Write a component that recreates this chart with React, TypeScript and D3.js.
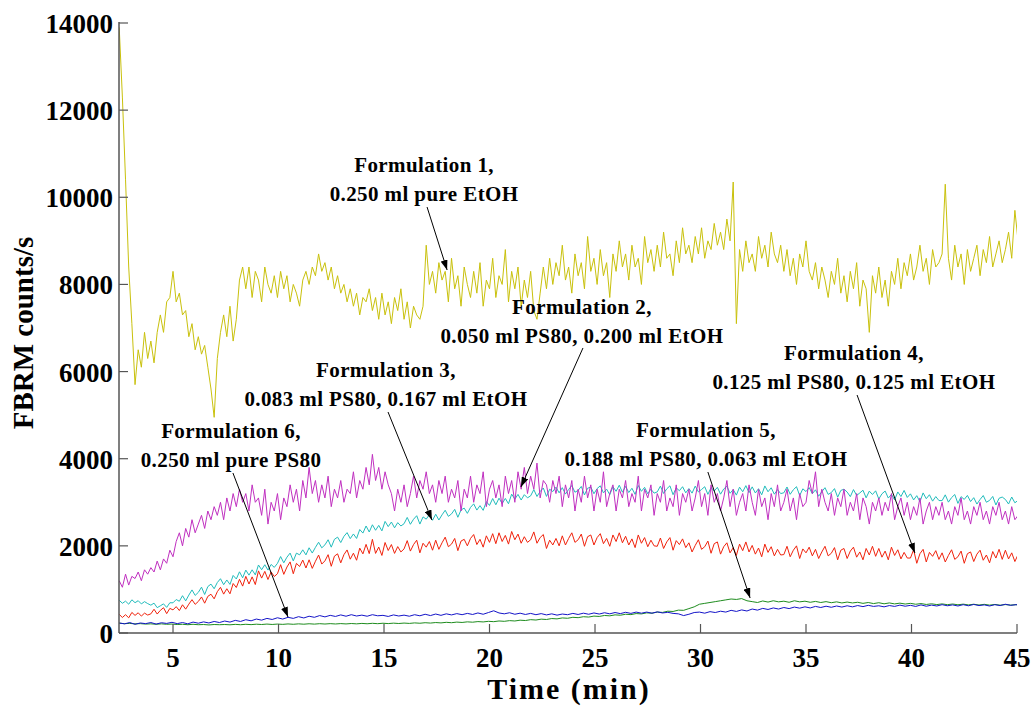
import React from 'react';
import * as d3 from 'd3';

// ---- Chart data (FBRM counts/s versus time, sampled at a fixed interval from T_START) ----
const T_START = 2.45;

const X_TICKS = [5, 10, 15, 20, 25, 30, 35, 40, 45];
const Y_TICKS = [0, 2000, 4000, 6000, 8000, 10000, 12000, 14000];

// Formulation 1: 0.250 ml pure EtOH
const F1_STEP = 0.15;
const F1_COUNTS = [
  13900, 12300, 10400, 8400, 7100, 5700, 6500, 6100, 6900, 6300,
  6700, 6200, 6900, 7300, 6900, 7600, 7700, 8300, 7600, 7800,
  7300, 7400, 6800, 7100, 6500, 6800, 6400, 6600, 6100, 5600,
  4950, 6300, 6900, 7300, 6800, 7500, 6700, 7200, 8100, 8400,
  7900, 8400, 7700, 8300, 8100, 7600, 8400, 8000, 7800, 8200,
  7700, 8300, 7900, 8200, 7600, 8000, 7800, 7500, 8100, 8300,
  8000, 8400, 8200, 8700, 8300, 8500, 8100, 8400, 7900, 8200,
  7800, 8000, 7600, 7900, 7500, 7800, 7300, 7700, 7600, 7900,
  7400, 7700, 7200, 7800, 7300, 7600, 7100, 7700, 7400, 7900,
  7200, 7600, 7000, 7500, 7300, 7200, 7500, 8900, 8000, 8300,
  7800, 8500, 8100, 8300, 7600, 8600, 7900, 8200, 7500, 8400,
  8000, 7700, 8300, 7800, 8500, 7500, 8100, 7900, 8600, 7700,
  8200, 8000, 8800, 7600, 8300, 7900, 8400, 7500, 8100, 7700,
  8300, 7400, 7200, 7800, 8400, 7900, 8600, 8000, 8500, 8200,
  8900, 8100, 8400, 7800, 8700, 8200, 8500, 7900, 9100, 8300,
  8600, 8000, 8800, 8200, 8500, 7700, 8700, 8300, 9000, 8400,
  8700, 8100, 8900, 8400, 8600, 8000, 9100, 8500, 8800, 8300,
  8900, 8400, 9200, 8600, 8700, 8200, 9000, 8500, 9300, 8700,
  8900, 8500, 9100, 8700, 9300, 8600, 9000, 8800, 9400, 8900,
  9200, 8800, 9500, 9000, 10350, 7100, 8800, 8300, 9000, 8500,
  8700, 8300, 9100, 8600, 8900, 8400, 9200, 8700, 8500, 8900,
  8300, 8800, 8200, 8600, 8000, 8700, 8400, 9000, 8300, 8100,
  8500, 7900, 8400, 8100, 7700, 8300, 8000, 8600, 7800, 8200,
  7600, 8300, 7900, 8500, 7500, 8100, 7900, 6900, 8200, 7800,
  8400, 7700, 8100, 7500, 8300, 8000, 8600, 7900, 8500, 8200,
  8700, 8100, 8400, 8900, 8300, 8600, 8000, 8800, 8400, 8500,
  8700, 10300, 8600, 8100, 8900, 8400, 8700, 8000, 8800, 8300,
  8600, 8900, 8200, 8800, 8500, 9100, 8400, 8700, 9000, 8500,
  8800, 9200, 8600, 9700, 9000,
];

// Formulation 2: 0.050 ml PS80, 0.200 ml EtOH
const F2_STEP = 0.15;
const F2_COUNTS = [
  1200, 1050, 1350, 1100, 1300, 1250, 1400, 1200, 1450, 1350,
  1500, 1400, 1650, 1450, 1700, 1600, 1900, 1750, 2100, 2300,
  2000, 2400, 2200, 2600, 2300, 2500, 2700, 2400, 2800, 2600,
  2900, 2700, 3000, 2600, 3100, 2800, 3200, 2900, 3300, 3000,
  3200, 2800, 3400, 3000, 3100, 2700, 3300, 2500, 3000, 2800,
  3200, 2600, 3100, 2900, 3400, 3000, 3300, 2800, 3500, 3100,
  3800, 3200, 3500, 3000, 3400, 3100, 3600, 2900, 3300, 3100,
  3500, 3000, 3300, 3200, 3700, 3100, 3500, 3300, 3800, 3400,
  4100, 3500, 3800, 3300, 3700, 3400, 3200, 2800, 3300, 3000,
  3400, 2900, 3200, 3600, 3100, 3500, 3300, 3700, 3200, 3400,
  3000, 3500, 3200, 3600, 3000, 3300, 3100, 3500, 2800, 3300,
  3100, 3600, 3000, 3400, 3200, 3700, 2900, 3300, 3500, 3100,
  3400, 2900, 3600, 3200, 3500, 3000, 3700, 3300, 3800, 3200,
  3600, 3300, 3900, 3100, 3500, 3400, 3000, 3500, 3200, 3600,
  2900, 3400, 3100, 3500, 2800, 3300, 3000, 3600, 3100, 3400,
  2800, 3300, 3000, 3700, 2900, 3200, 3400, 2800, 3300, 3100,
  3500, 2900, 3200, 3000, 3600, 2800, 3300, 3100, 3400, 2700,
  3200, 3000, 3500, 2800, 3100, 2900, 3400, 2700, 3200, 3000,
  3300, 2800, 3100, 3500, 2900, 3200, 2700, 3400, 3000, 3200,
  2800, 3100, 3500, 2900, 3300, 2700, 3000, 3200, 2800, 3400,
  3000, 2700, 3300, 2900, 3100, 2600, 3200, 2900, 3400, 2800,
  3000, 3300, 2800, 3100, 2600, 3200, 2900, 3000, 3500, 3200,
  3700, 2900, 3300, 3000, 2800, 3200, 2700, 3100, 2900, 3300,
  2700, 3000, 2800, 3200, 2600, 3100, 2900, 2500, 3000, 2800,
  3100, 2700, 3000, 2800, 3200, 2600, 2900, 3100, 2700, 3000,
  2600, 2900, 2700, 3100, 2500, 2800, 3000, 2600, 2900, 2700,
  3000, 2600, 2800, 2500, 2900, 2700, 3100, 2600, 2800, 2500,
  2900, 2700, 3000, 2600, 2800, 2500, 2900, 2700, 3000, 2600,
  2800, 2500, 2900, 2600, 2700,
];

// Formulation 3: 0.083 ml PS80, 0.167 ml EtOH
const F3_STEP = 0.15;
const F3_COUNTS = [
  752, 682, 731, 661, 762, 696, 741, 668, 720, 675,
  639, 685, 582, 624, 669, 588, 694, 693, 768, 729,
  856, 737, 870, 989, 863, 933, 1052, 884, 1066, 1122,
  1016, 1159, 1246, 1109, 1217, 1115, 1321, 1240, 1404, 1267,
  1444, 1328, 1450, 1334, 1561, 1452, 1567, 1444, 1573, 1506,
  1598, 1755, 1611, 1740, 1834, 1655, 1833, 1794, 1909, 1793,
  1956, 1835, 1966, 2083, 1955, 2023, 2140, 1970, 2150, 2200,
  2076, 2218, 2304, 2166, 2273, 2170, 2375, 2293, 2456, 2318,
  2484, 2358, 2470, 2344, 2561, 2442, 2547, 2414, 2533, 2456,
  2508, 2652, 2495, 2611, 2692, 2500, 2665, 2613, 2715, 2586,
  2726, 2593, 2712, 2817, 2677, 2733, 2838, 2656, 2824, 2866,
  2746, 2883, 2964, 2821, 2923, 2815, 3015, 2928, 3086, 2943,
  3094, 2972, 3088, 2966, 3187, 3072, 3181, 3052, 3175, 3102,
  3148, 3291, 3133, 3248, 3328, 3135, 3299, 3246, 3347, 3217,
  3336, 3189, 3294, 3385, 3231, 3273, 3364, 3168, 3322, 3350,
  3196, 3315, 3378, 3217, 3301, 3175, 3357, 3252, 3392, 3231,
  3364, 3224, 3322, 3182, 3385, 3252, 3343, 3196, 3301, 3210,
  3238, 3371, 3203, 3308, 3378, 3175, 3329, 3266, 3357, 3217,
  3315, 3210, 3371, 3238, 3294, 3357, 3182, 3336, 3259, 3343,
  3186, 3305, 3368, 3207, 3291, 3165, 3347, 3242, 3382, 3221,
  3354, 3214, 3312, 3172, 3375, 3242, 3333, 3186, 3291, 3200,
  3218, 3351, 3183, 3288, 3358, 3155, 3309, 3246, 3337, 3197,
  3286, 3139, 3244, 3335, 3181, 3223, 3314, 3118, 3272, 3300,
  3235, 3130, 3291, 3158, 3214, 3277, 3102, 3256, 3179, 3263,
  3076, 3195, 3258, 3097, 3181, 3055, 3237, 3132, 3272, 3111,
  3194, 3054, 3152, 3012, 3215, 3082, 3173, 3026, 3131, 3040,
  3038, 3171, 3003, 3108, 3178, 2975, 3129, 3066, 3157, 3017,
  3106, 2959, 3064, 3155, 3001, 3043, 3134, 2938, 3092, 3120,
  3065, 2960, 3121, 2988, 3044,
];

// Formulation 4: 0.125 ml PS80, 0.125 ml EtOH
const F4_STEP = 0.15;
const F4_COUNTS = [
  428, 356, 420, 348, 472, 404, 464, 388, 456, 412,
  440, 545, 435, 520, 580, 445, 565, 530, 605, 515,
  648, 547, 662, 765, 658, 724, 827, 684, 841, 890,
  784, 948, 1048, 892, 1016, 900, 1136, 1044, 1232, 1076,
  1300, 1124, 1288, 1112, 1426, 1260, 1414, 1228, 1402, 1296,
  1360, 1568, 1346, 1514, 1632, 1360, 1598, 1526, 1674, 1492,
  1680, 1483, 1646, 1789, 1582, 1655, 1798, 1531, 1764, 1817,
  1610, 1798, 1906, 1694, 1832, 1670, 1948, 1816, 2034, 1822,
  2150, 1827, 1973, 1780, 2077, 1893, 2030, 1827, 1983, 1860,
  1930, 2120, 1880, 2030, 2130, 1840, 2060, 1970, 2100, 1900,
  2130, 1920, 2070, 2200, 1980, 2040, 2170, 1890, 2110, 2150,
  2000, 2170, 2260, 2030, 2150, 1970, 2230, 2080, 2280, 2050,
  2300, 2100, 2240, 2040, 2330, 2140, 2270, 2060, 2210, 2080,
  2140, 2320, 2060, 2190, 2260, 1940, 2130, 2020, 2170, 2000,
  2230, 2020, 2170, 2300, 2080, 2140, 2270, 1990, 2210, 2250,
  2020, 2190, 2280, 2050, 2170, 1990, 2250, 2100, 2300, 2070,
  2220, 2020, 2160, 1960, 2250, 2060, 2190, 1980, 2130, 2000,
  1990, 2180, 1940, 2090, 2190, 1900, 2120, 2030, 2160, 1960,
  2070, 1860, 2010, 2140, 1920, 1980, 2110, 1830, 2050, 2090,
  1810, 1980, 2070, 1840, 1960, 1780, 2040, 1890, 2090, 1860,
  2010, 1810, 1950, 1750, 2040, 1850, 1980, 1770, 1920, 1790,
  1800, 1990, 1750, 1900, 2000, 1710, 1930, 1840, 1970, 1770,
  1920, 1710, 1860, 1990, 1770, 1830, 1960, 1680, 1900, 1940,
  1710, 1880, 1970, 1740, 1860, 1680, 1940, 1790, 1990, 1760,
  1940, 1740, 1880, 1680, 1970, 1780, 1910, 1700, 1850, 1720,
  1720, 1910, 1600, 1820, 1920, 1630, 1850, 1760, 1890, 1690,
  1840, 1630, 1780, 1910, 1690, 1750, 1880, 1600, 1820, 1860,
  1640, 1810, 1900, 1670, 1790, 1610, 1870, 1720, 1920, 1690,
  1900, 1700, 1840, 1640, 1800,
];

// Formulation 5: 0.188 ml PS80, 0.063 ml EtOH
const F5_STEP = 0.25;
const F5_COUNTS = [
  225, 215, 220, 210, 215, 205, 210, 200, 210, 200,
  205, 195, 200, 190, 200, 190, 195, 185, 195, 190,
  195, 188, 198, 190, 200, 192, 202, 195, 205, 196,
  205, 198, 208, 200, 210, 202, 212, 204, 214, 206,
  215, 207, 216, 208, 218, 210, 220, 212, 222, 214,
  224, 216, 226, 218, 228, 220, 232, 224, 236, 228,
  240, 232, 245, 236, 250, 242, 256, 248, 262, 254,
  268, 260, 276, 268, 284, 276, 294, 286, 306, 298,
  318, 310, 332, 324, 346, 338, 360, 352, 374, 366,
  388, 380, 402, 394, 416, 408, 430, 422, 446, 438,
  462, 454, 480, 472, 500, 494, 525, 520, 560, 600,
  660, 680, 700, 720, 740, 760, 780, 770, 790, 740,
  720, 700, 735, 710, 740, 715, 730, 705, 740, 715,
  730, 705, 725, 700, 720, 695, 715, 690, 710, 690,
  705, 680, 700, 675, 695, 670, 690, 668, 685, 665,
  680, 660, 675, 655, 670, 652, 668, 650, 665, 648,
  662, 645, 660, 642, 658, 640, 655, 638, 652, 640,
  650, 640,
];

// Formulation 6: 0.250 ml pure PS80
const F6_STEP = 0.25;
const F6_COUNTS = [
  230, 210, 240, 200, 230, 215, 240, 205, 235, 220,
  245, 215, 240, 210, 250, 225, 255, 230, 265, 240,
  275, 250, 290, 265, 305, 280, 320, 295, 335, 310,
  350, 320, 360, 335, 375, 345, 385, 360, 400, 370,
  405, 380, 415, 385, 420, 390, 410, 385, 420, 395,
  405, 380, 415, 390, 410, 385, 420, 395, 430, 400,
  435, 405, 440, 415, 445, 420, 450, 425, 460, 430,
  470, 510, 460, 440, 465, 430, 455, 425, 450, 420,
  445, 415, 440, 410, 435, 420, 450, 425, 455, 430,
  460, 435, 465, 440, 470, 445, 475, 450, 480, 455,
  480, 455, 485, 460, 475, 450, 440, 400, 430, 470,
  480, 455, 490, 470, 500, 480, 520, 495, 530, 505,
  550, 525, 565, 540, 575, 550, 585, 560, 595, 570,
  600, 575, 610, 585, 615, 590, 620, 595, 625, 600,
  630, 605, 635, 610, 625, 600, 630, 610, 640, 615,
  635, 610, 645, 615, 640, 620, 650, 625, 645, 620,
  650, 625, 655, 630, 645, 620, 650, 630, 660, 635,
  650, 640,
];

// Drawing order: later series sit on top
const SERIES = [
  { id: 'f1', color: '#c9c10c', step: F1_STEP, values: F1_COUNTS },
  { id: 'f5', color: '#1e8c1e', step: F5_STEP, values: F5_COUNTS },
  { id: 'f6', color: '#1414c8', step: F6_STEP, values: F6_COUNTS },
  { id: 'f4', color: '#f0220c', step: F4_STEP, values: F4_COUNTS },
  { id: 'f3', color: '#22bcbc', step: F3_STEP, values: F3_COUNTS },
  { id: 'f2', color: '#c030c0', step: F2_STEP, values: F2_COUNTS },
];

// Callouts: label anchor (t, counts at first baseline), arrow tail and tip in data units
const NOTES = [
  { lines: ['Formulation 1,', '0.250 ml pure EtOH'], at: [16.9, 10580], from: [17.04, 9777], to: [17.99, 8331] },
  { lines: ['Formulation 2,', '0.050 ml PS80, 0.200 ml EtOH'], at: [24.38, 7322], from: [24.43, 6541], to: [21.49, 3351] },
  { lines: ['Formulation 3,', '0.083 ml PS80, 0.167 ml EtOH'], at: [15.09, 5876], from: [15.19, 5072], to: [17.27, 2594] },
  { lines: ['Formulation 4,', '0.125 ml PS80, 0.125 ml EtOH'], at: [37.27, 6266], from: [37.42, 5462], to: [40.16, 1836] },
  { lines: ['Formulation 5,', '0.188 ml PS80, 0.063 ml EtOH'], at: [30.26, 4499], from: [30.35, 3695], to: [32.35, 803] },
  { lines: ['Formulation 6,', '0.250 ml pure PS80'], at: [7.75, 4476], from: [7.84, 3672], to: [10.45, 367] },
];

const W = 1032;
const H = 708;
const PLOT = { left: 119, right: 1017, top: 23, bottom: 633 };
const FONT = '"Liberation Serif", "Times New Roman", Times, serif';

export default function App() {
  const x = d3.scaleLinear().domain([2.44, 45]).range([PLOT.left, PLOT.right]);
  const y = d3.scaleLinear().domain([0, 14000]).range([PLOT.bottom, PLOT.top]);

  const paths = SERIES.map((s) => {
    const pts: [number, number][] = s.values.map((v, i) => [T_START + i * s.step, v]);
    const gen = d3
      .line<[number, number]>()
      .x((d) => x(d[0]))
      .y((d) => y(d[1]));
    return { id: s.id, color: s.color, d: gen(pts) || '' };
  });

  const axisColor = '#555';

  return (
    <svg
      width={W}
      height={H}
      viewBox={`0 0 ${W} ${H}`}
      style={{ position: 'absolute', left: 0, top: 0, background: '#fff' }}
    >
      <defs>
        <clipPath id="plot-area">
          <rect x={PLOT.left} y={PLOT.top - 2} width={PLOT.right - PLOT.left} height={PLOT.bottom - PLOT.top + 2} />
        </clipPath>
        <marker id="arrow-head" viewBox="0 0 10 7" refX="10" refY="3.5" markerWidth="10" markerHeight="7" markerUnits="userSpaceOnUse" orient="auto">
          <path d="M0,0 L10,3.5 L0,7 Z" fill="#000" />
        </marker>
      </defs>

      {/* data traces */}
      <g clipPath="url(#plot-area)">
        {paths.map((p) => (
          <path key={p.id} d={p.d} fill="none" stroke={p.color} strokeWidth={1} strokeLinejoin="round" />
        ))}
      </g>

      {/* axes */}
      <line x1={PLOT.left} x2={PLOT.left} y1={PLOT.top - 1} y2={PLOT.bottom} stroke={axisColor} strokeWidth={1.5} />
      <line x1={PLOT.left} x2={PLOT.right} y1={PLOT.bottom} y2={PLOT.bottom} stroke={axisColor} strokeWidth={1.5} />

      {Y_TICKS.map((t) => (
        <g key={`y${t}`}>
          <line x1={PLOT.left} x2={PLOT.left + 9} y1={y(t)} y2={y(t)} stroke={axisColor} strokeWidth={1.2} />
          <text
            x={PLOT.left - 6}
            y={y(t) + 10}
            textAnchor="end"
            fontFamily={FONT}
            fontWeight="bold"
            fontSize={27}
            fill="#000"
          >
            {t}
          </text>
        </g>
      ))}

      {X_TICKS.map((t) => (
        <g key={`x${t}`}>
          <line x1={x(t)} x2={x(t)} y1={PLOT.bottom} y2={PLOT.bottom - 9} stroke={axisColor} strokeWidth={1.2} />
          <text x={x(t)} y={667} textAnchor="middle" fontFamily={FONT} fontWeight="bold" fontSize={27} fill="#000">
            {t}
          </text>
        </g>
      ))}

      <text
        transform={`translate(33, 333) rotate(-90)`}
        textAnchor="middle"
        fontFamily={FONT}
        fontWeight="bold"
        fontSize={29}
        fill="#000"
      >
        FBRM counts/s
      </text>
      <text
        x={569}
        y={699}
        textAnchor="middle"
        fontFamily={FONT}
        fontWeight="bold"
        fontSize={30}
        letterSpacing={2}
        fill="#000"
      >
        Time (min)
      </text>

      {/* callouts */}
      {NOTES.map((n, i) => (
        <g key={`n${i}`}>
          <line
            x1={x(n.from[0])}
            y1={y(n.from[1])}
            x2={x(n.to[0])}
            y2={y(n.to[1])}
            stroke="#000"
            strokeWidth={1}
            markerEnd="url(#arrow-head)"
          />
          <text
            x={x(n.at[0])}
            y={y(n.at[1])}
            textAnchor="middle"
            fontFamily={FONT}
            fontWeight="bold"
            fontSize={21}
            letterSpacing={0.4}
            fill="#000"
          >
            {n.lines.map((l, j) => (
              <tspan key={j} x={x(n.at[0])} dy={j === 0 ? 0 : 29}>
                {l}
              </tspan>
            ))}
          </text>
        </g>
      ))}
    </svg>
  );
}
